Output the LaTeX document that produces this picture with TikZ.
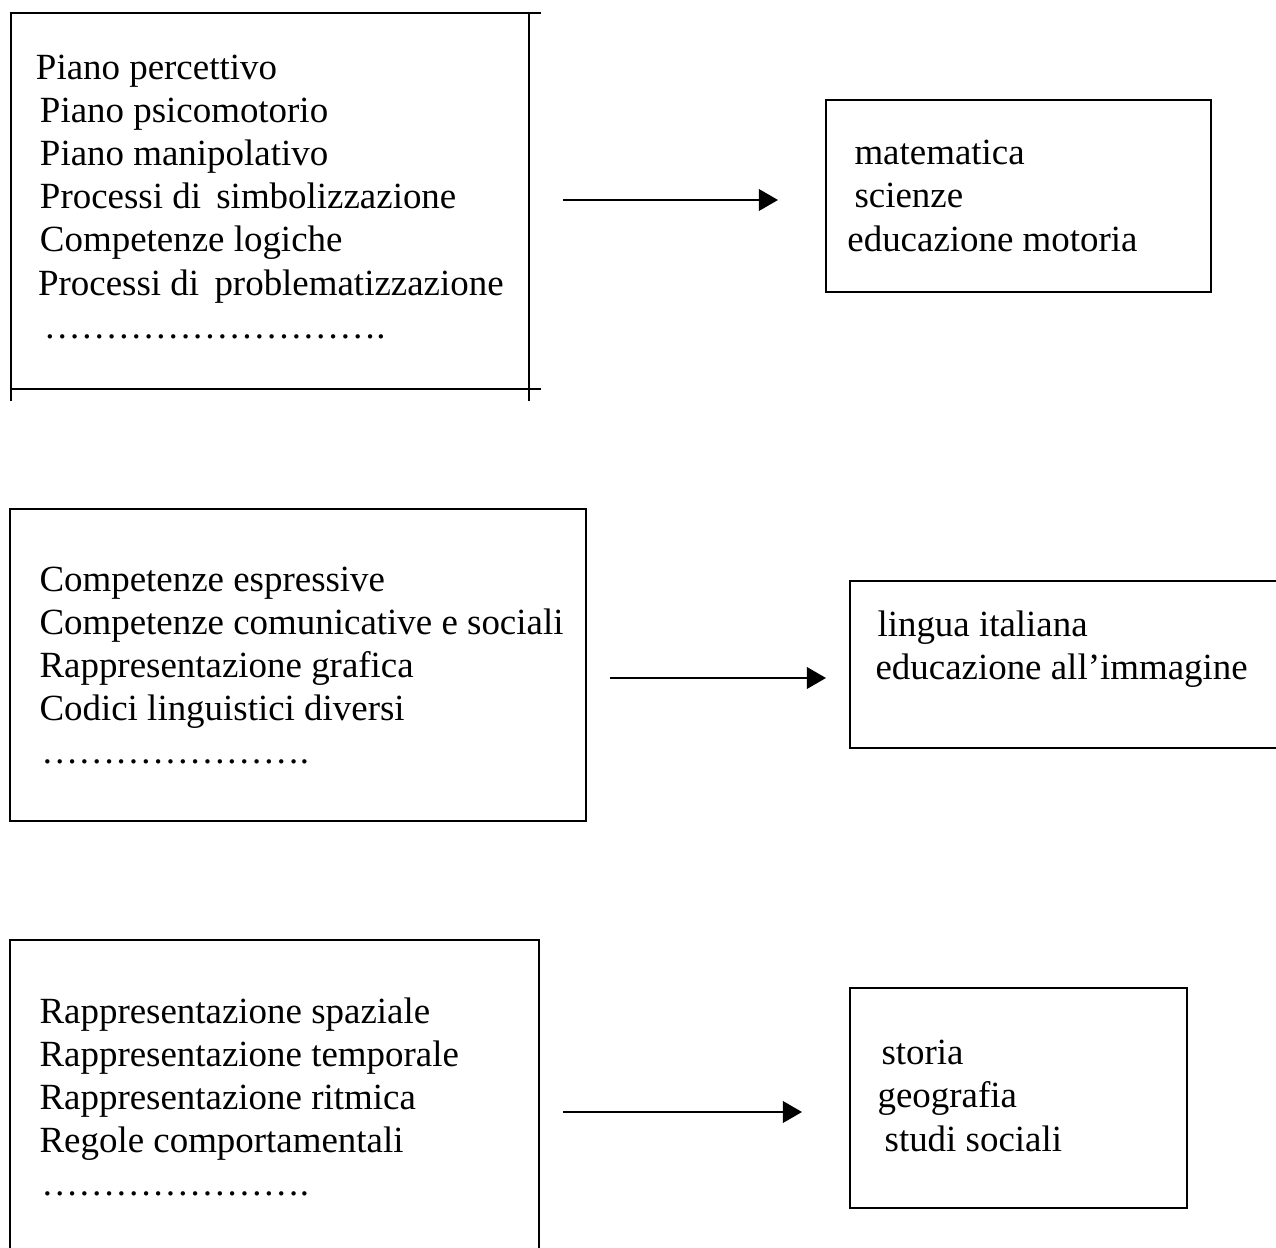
\documentclass[tikz,border=0pt]{standalone}
\usepackage{fontspec}
\setmainfont{Liberation Serif}
\usetikzlibrary{arrows.meta}
\usetikzlibrary{positioning}

\begin{document}
\begin{tikzpicture}[x=0.325pt,y=-0.325pt,
  box/.style={draw,line width=0.7pt,inner sep=0pt},
  lines/.style={inner sep=0pt,align=left,font=\fontsize{12pt}{14pt}\selectfont},
  link/.style={line width=0.6pt,-{Triangle[length=6.2pt,width=7pt]}}]
\useasboundingbox (0,0) rectangle (1276,1248);
\clip (0,0) rectangle (1276,1248);

% boxes
\node (percep) [inner sep=0pt,minimum width=167.7pt,minimum height=121.55pt] at (270,201) {};
\node (matem) [box,minimum width=125.1pt,minimum height=62.4pt] at (1018.5,196) {};
\node (compet) [box,minimum width=187.2pt,minimum height=101.4pt] at (298,665) {};
\node (lingua) [box,minimum width=146.25pt,minimum height=54.3pt] at (1075,664.5) {};
\node (rappr) [box,minimum width=171.9pt,minimum height=108.9pt] at (274.5,1107.5) {};
\node (storia) [box,minimum width=109.5pt,minimum height=71.5pt] at (1018.5,1098) {};

% first box, sides running past the corners
\draw[line width=0.7pt] ([xshift=-0.6pt]percep.north west) -- ([xshift=4pt]percep.north east);
\draw[line width=0.7pt] ([xshift=-0.6pt]percep.south west) -- ([xshift=4pt]percep.south east);
\draw[line width=0.7pt] (percep.north west) -- ([yshift=-4pt]percep.south west);
\draw[line width=0.7pt] (percep.north east) -- ([yshift=-4pt]percep.south east);

% texts
\node (tpercep) [lines,below right=13.4pt and 7.8pt of percep.north west]
  {Piano percettivo\\ \hspace*{1.3pt}Piano psicomotorio\\ \hspace*{1.3pt}Piano manipolativo\\
   \hspace*{1.3pt}Processi di\hspace{2pt} simbolizzazione\\ \hspace*{1.3pt}Competenze logiche\\
   \hspace*{0.7pt}Processi di\hspace{2pt} problematizzazione\\ \hspace*{2.6pt}{………}{………}{………}.};
\node (tmatem) [lines,below right=13.3pt and 7.1pt of matem.north west]
  {\hspace*{2.3pt}matematica\\ \hspace*{2.3pt}scienze\\ educazione motoria};
\node (tcompet) [lines,below right=19pt and 9.75pt of compet.north west]
  {Competenze espressive\\ Competenze comunicative e sociali\\ Rappresentazione grafica\\
   Codici linguistici diversi\\ \hspace*{0.6pt}{………}{………}{…}.};
\node (tlingua) [lines,below right=9.9pt and 8.45pt of lingua.north west]
  {\hspace*{0.65pt}lingua italiana\\ educazione all’immagine};
\node (trappr) [lines,below right=19pt and 9.75pt of rappr.north west]
  {Rappresentazione spaziale\\ Rappresentazione temporale\\ Rappresentazione ritmica\\
   Regole comportamentali\\ \hspace*{0.6pt}{………}{………}{…}.};
\node (tstoria) [lines,below right=17.2pt and 9.1pt of storia.north west]
  {\hspace*{1.3pt}storia\\ geografia\\ \hspace*{2.3pt}studi sociali};

% arrows
\coordinate (a1) at (563,200);
\coordinate (b1) at (778,200);
\coordinate (a2) at (610,678);
\coordinate (b2) at (826,678);
\coordinate (a3) at (563,1112);
\coordinate (b3) at (802,1112);
\draw[link] (a1) -- (b1);
\draw[link] (a2) -- (b2);
\draw[link] (a3) -- (b3);
\end{tikzpicture}
\end{document}
